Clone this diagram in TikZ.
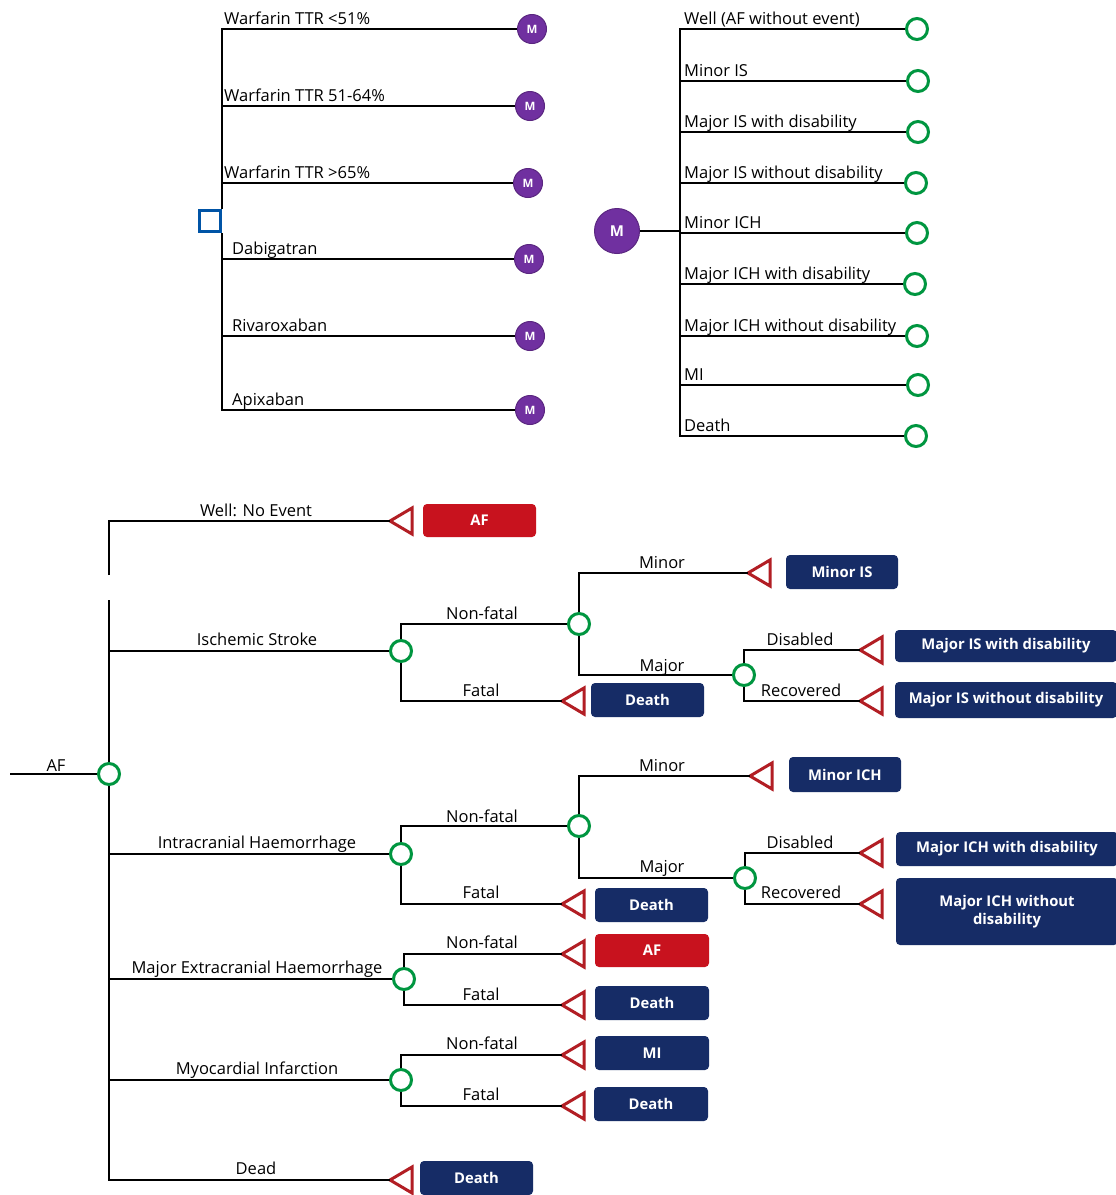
\documentclass[tikz,border=0pt]{standalone}
\usepackage{fontspec}
\setmainfont{Open Sans}
\definecolor{navy}{RGB}{22,44,102}
\definecolor{redbox}{RGB}{200,18,30}
\definecolor{trired}{RGB}{178,30,36}
\definecolor{grn}{RGB}{0,150,64}
\definecolor{purp}{RGB}{112,48,160}
\definecolor{sqblue}{RGB}{0,84,166}
\newcommand\mytri[3]{\coordinate (#1) at (#2,#3);\draw[trist] (#1) -- ++(22,-13) -- ++(0,26) -- cycle;}
\begin{document}
\begin{tikzpicture}[x=1pt,y=-1pt,
  ln/.style={line width=2.7pt, black},
  mnode/.style={circle, fill=purp, draw=purp!80!black, line width=1pt, minimum size=29pt, inner sep=0pt, text=white, font=\bfseries\fontsize{11.5}{11.5}\selectfont},
  gnode/.style={circle, draw=grn, line width=3pt, fill=white, minimum size=21pt, inner sep=0pt},
  lab/.style={font=\fontsize{16.5}{17}\selectfont, inner sep=0pt},
  nbox/.style={rectangle, rounded corners=4pt, fill=navy, text=white, font=\bfseries\fontsize{14.8}{18}\selectfont, inner sep=0pt, align=center},
  rbox/.style={nbox, fill=redbox},
  trist/.style={draw=trired, line width=3pt, fill=white, line join=miter},
]
\useasboundingbox (0,0) rectangle (1116,1195);
\fill[white] (0,0) rectangle (1116,1195);

% ---------------- top left tree ----------------
\node[draw=sqblue, line width=3pt, minimum size=21pt, inner sep=0pt] (sq) at (210,221) {};
\node[mnode] (m1) at (532,29) {M};
\node[mnode] (m2) at (530,106) {M};
\node[mnode] (m3) at (528,183) {M};
\node[mnode] (m4) at (529,259) {M};
\node[mnode] (m5) at (530,336) {M};
\node[mnode] (m6) at (530,410) {M};
\draw[ln] (sq.north east) |- (m1.west);
\draw[ln] (sq.north east) |- (m2.west);
\draw[ln] (sq.north east) |- (m3.west);
\draw[ln] (sq.south east) |- (m4.west);
\draw[ln] (sq.south east) |- (m5.west);
\draw[ln] (sq.south east) |- (m6.west);
\node[lab, anchor=base west] (lm1) at (224,24) {Warfarin TTR <51\%};
\node[lab, anchor=base west] (lm2) at (224,101) {Warfarin TTR 51-64\%};
\node[lab, anchor=base west] (lm3) at (224,178) {Warfarin TTR >65\%};
\node[lab, anchor=base west] (lm4) at (232,254) {Dabigatran};
\node[lab, anchor=base west] (lm5) at (232,331) {Rivaroxaban};
\node[lab, anchor=base west] (lm6) at (232,405) {Apixaban};

% ---------------- top right tree ----------------
\node[mnode, minimum size=45pt, font=\bfseries\fontsize{15}{15}\selectfont] (Mb) at (617,231) {M};
\coordinate (jR) at (680,231);
\node[gnode] (g1) at (917,29) {};
\node[gnode] (g2) at (918,81) {};
\node[gnode] (g3) at (918,132) {};
\node[gnode] (g4) at (916,183) {};
\node[gnode] (g5) at (917,233) {};
\node[gnode] (g6) at (915,284) {};
\node[gnode] (g7) at (917,336) {};
\node[gnode] (g8) at (918,385) {};
\node[gnode] (g9) at (916,436) {};
\draw[ln] (Mb.east) -- (jR);
\foreach \g in {g1,g2,g3,g4,g5,g6,g7,g8,g9} {\draw[ln] (jR) |- (\g.west);}
\node[lab, anchor=base west] (lg1) at (684,24) {Well (AF without event)};
\node[lab, anchor=base west] (lg2) at (684,76) {Minor IS};
\node[lab, anchor=base west] (lg3) at (684,127) {Major IS with disability};
\node[lab, anchor=base west] (lg4) at (684,178) {Major IS without disability};
\node[lab, anchor=base west] (lg5) at (684,228) {Minor ICH};
\node[lab, anchor=base west] (lg6) at (684,279) {Major ICH with disability};
\node[lab, anchor=base west] (lg7) at (684,331) {Major ICH without disability};
\node[lab, anchor=base west] (lg8) at (684,380) {MI};
\node[lab, anchor=base west] (lg9) at (684,431) {Death};

% ---------------- bottom tree ----------------
\coordinate (start) at (10,774);
\node[gnode] (c0) at (109,774) {};
\node[gnode] (cIS) at (401,651) {};
\node[gnode] (cISnf) at (579,624) {};
\node[gnode] (cISmaj) at (744,675) {};
\node[gnode] (cICH) at (401,854) {};
\node[gnode] (cICHnf) at (579,826) {};
\node[gnode] (cICHmaj) at (745,878) {};
\node[gnode] (cECH) at (404,979) {};
\node[gnode] (cMI) at (401,1080) {};
\coordinate (gapT) at (109,575);
\coordinate (gapB) at (109,600);

\mytri{tWell}{390}{521}
\mytri{tIS1}{562}{701}
\mytri{tISmin}{748}{573}
\mytri{tISdis}{860}{650}
\mytri{tISrec}{860}{701}
\mytri{tICH1}{562}{904}
\mytri{tICHmin}{750}{776}
\mytri{tICHdis}{860}{853}
\mytri{tICHrec}{860}{904}
\mytri{tECH1}{562}{954}
\mytri{tECH2}{562}{1005}
\mytri{tMI1}{562}{1055}
\mytri{tMI2}{562}{1106}
\mytri{tDead}{390}{1180}

\draw[ln] (start) -- (c0.west);
\draw[ln] (c0.north) -- (gapB);
\draw[ln] (gapT) |- (tWell);
\draw[ln] (gapB) |- (cIS.west);
\draw[ln] (c0.south) |- (cICH.west);
\draw[ln] (c0.south) |- (cECH.west);
\draw[ln] (c0.south) |- (cMI.west);
\draw[ln] (c0.south) |- (tDead);

\draw[ln] (cIS.north) |- (cISnf.west);
\draw[ln] (cIS.south) |- (tIS1);
\draw[ln] (cISnf.north) |- (tISmin);
\draw[ln] (cISnf.south) |- (cISmaj.west);
\draw[ln] (cISmaj.north) |- (tISdis);
\draw[ln] (cISmaj.south) |- (tISrec);

\draw[ln] (cICH.north) |- (cICHnf.west);
\draw[ln] (cICH.south) |- (tICH1);
\draw[ln] (cICHnf.north) |- (tICHmin);
\draw[ln] (cICHnf.south) |- (cICHmaj.west);
\draw[ln] (cICHmaj.north) |- (tICHdis);
\draw[ln] (cICHmaj.south) |- (tICHrec);

\draw[ln] (cECH.north) |- (tECH1);
\draw[ln] (cECH.south) |- (tECH2);
\draw[ln] (cMI.north) |- (tMI1);
\draw[ln] (cMI.south) |- (tMI2);

% boxes
\node[rbox, minimum width=113pt, minimum height=33pt] (bAF1) at (479.5,520.5) {AF};
\node[nbox, minimum width=112pt, minimum height=34pt] (bMinIS) at (842,572) {Minor IS};
\node[nbox, minimum width=113pt, minimum height=34pt] (bD1) at (647.5,700) {Death};
\node[nbox, minimum width=222pt, minimum height=32pt] (bISdis) at (1006,646) {Major IS with disability};
\node[nbox, minimum width=222pt, minimum height=36pt] (bISrec) at (1006,700) {Major IS without disability};
\node[nbox, minimum width=112pt, minimum height=35pt] (bMinICH) at (845,774.5) {Minor ICH};
\node[nbox, minimum width=113pt, minimum height=34pt] (bD2) at (651.5,905) {Death};
\node[nbox, minimum width=222pt, minimum height=34pt] (bICHdis) at (1007,849) {Major ICH with disability};
\node[nbox, minimum width=222pt, minimum height=67pt] (bICHrec) at (1007,911.5) {Major ICH without\\disability};
\node[rbox, minimum width=114pt, minimum height=33pt] (bAF2) at (652,950.5) {AF};
\node[nbox, minimum width=114pt, minimum height=34pt] (bD3) at (652,1003) {Death};
\node[nbox, minimum width=114pt, minimum height=34pt] (bMI) at (652,1053) {MI};
\node[nbox, minimum width=114pt, minimum height=34pt] (bD4) at (651,1104) {Death};
\node[nbox, minimum width=113pt, minimum height=34pt] (bD5) at (476.5,1178) {Death};

% labels
\node[lab, anchor=base] (lAF) at (56,771) {AF};
\node[lab, anchor=base] (lWell) at (256,516) {Well: No Event};
\node[lab, anchor=base] (lIS) at (257,645) {Ischemic Stroke};
\node[lab, anchor=base] (lICH) at (257,848) {Intracranial Haemorrhage};
\node[lab, anchor=base] (lECH) at (257,973) {Major Extracranial Haemorrhage};
\node[lab, anchor=base] (lMI) at (257,1074) {Myocardial Infarction};
\node[lab, anchor=base] (lDead) at (256,1174) {Dead};
\node[lab, anchor=base] (l1) at (482,619) {Non-fatal};
\node[lab, anchor=base] (l2) at (481,696) {Fatal};
\node[lab, anchor=base] (l3) at (662,568) {Minor};
\node[lab, anchor=base] (l4) at (662,671) {Major};
\node[lab, anchor=base] (l5) at (800,645) {Disabled};
\node[lab, anchor=base] (l6) at (801,696) {Recovered};
\node[lab, anchor=base] (l7) at (482,822) {Non-fatal};
\node[lab, anchor=base] (l8) at (481,898) {Fatal};
\node[lab, anchor=base] (l9) at (662,771) {Minor};
\node[lab, anchor=base] (l10) at (662,872) {Major};
\node[lab, anchor=base] (l11) at (800,848) {Disabled};
\node[lab, anchor=base] (l12) at (801,898) {Recovered};
\node[lab, anchor=base] (l13) at (482,948) {Non-fatal};
\node[lab, anchor=base] (l14) at (481,1000) {Fatal};
\node[lab, anchor=base] (l15) at (482,1049) {Non-fatal};
\node[lab, anchor=base] (l16) at (481,1100) {Fatal};
\end{tikzpicture}
\end{document}
